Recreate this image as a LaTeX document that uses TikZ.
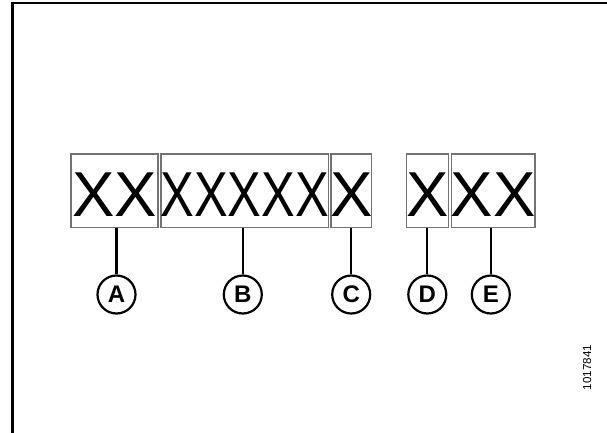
\documentclass[tikz,border=0pt]{standalone}
\usepackage{fontspec}
\setmainfont{Liberation Sans}
\begin{document}
\begin{tikzpicture}[x=1pt,y=-1pt,
  frameline/.style={line width=2.6pt,line cap=rect},
  xbox/.style={draw=black!55,line width=1.1pt,inner sep=0pt,minimum height=73.5pt},
  xtext/.style={inner sep=0pt,anchor=base,font=\fontsize{63.5}{63.5}\selectfont},
  callout/.style={circle,draw,line width=2.2pt,minimum size=38pt,inner sep=0pt,font=\bfseries\fontsize{24}{24}\selectfont},
  leader/.style={line width=2.2pt}]
\useasboundingbox (0,0) rectangle (607,433);
\coordinate (tl) at (12.2,3.2);
\coordinate (tr) at (608,3.2);
\coordinate (bl) at (12.2,434);
\draw[frameline] (tr) -- (tl) -- (bl);
% boxes
\node[xbox,minimum width=87pt] (ba) at (114.5,190.75) {};
\node[xbox,minimum width=167.3pt] (bb) at (244.6,190.75) {};
\node[xbox,minimum width=40.7pt] (bc) at (351.3,190.75) {};
\node[xbox,minimum width=41.6pt] (bd) at (427.5,190.75) {};
\node[xbox,minimum width=83.3pt] (be) at (493.3,190.75) {};
% texts
\node[xtext] (ta) at ([yshift=11.8pt]ba.south) {XX};
\node[xtext] (tb) at ([yshift=11.8pt]bb.south) {\scalebox{0.795}[1]{XXXXX}};
\node[xtext] (tc) at ([yshift=11.8pt]bc.south) {X};
\node[xtext] (td) at ([yshift=11.8pt]bd.south) {X};
\node[xtext] (te) at ([yshift=11.8pt]be.south) {XX};
% callouts
\node[callout] (ca) at (116.5,294.5) {A};
\node[callout] (cb) at (242.8,294.5) {B};
\node[callout] (cc) at (351.2,294.5) {C};
\node[callout] (cd) at (427.3,294.5) {D};
\node[callout] (ce) at (490.8,294.5) {E};
\foreach \c/\b in {ca/ba,cb/bb,cc/bc,cd/bd,ce/be}
  \draw[leader] (\c.north) -- (\c.north |- \b.south);
\node[rotate=90,inner sep=0pt,font=\fontsize{11.6}{11.6}\selectfont] (num) at (587,367.5) {1017841};
\end{tikzpicture}
\end{document}
